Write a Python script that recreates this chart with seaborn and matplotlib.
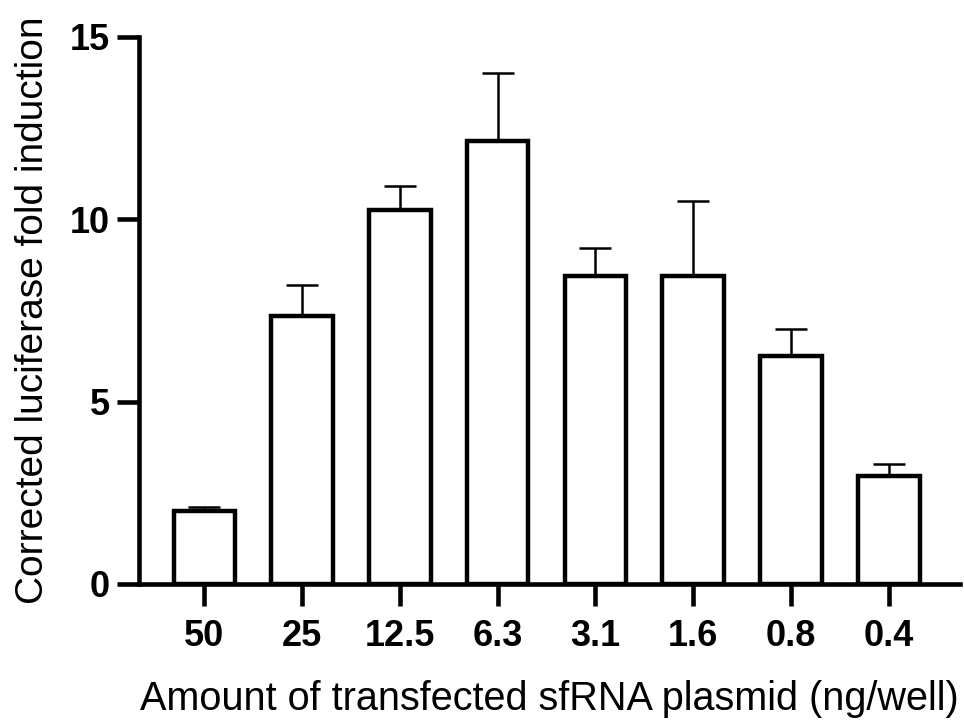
import matplotlib
matplotlib.use("Agg")
import matplotlib.pyplot as plt
import numpy as np
import pandas as pd
import seaborn as sns

# ---------------------- data ----------------------
amounts = ["50", "25", "12.5", "6.3", "3.1", "1.6", "0.8", "0.4"]
fold_mean = [2.0, 7.35, 10.25, 12.15, 8.45, 8.45, 6.25, 2.95]
fold_err = [0.1, 0.85, 0.65, 1.85, 0.75, 2.05, 0.75, 0.35]

df = pd.DataFrame({"amount": amounts, "fold": fold_mean})

# ---------------------- style ----------------------
sns.set_theme(style="ticks")
plt.rcParams["font.family"] = ["Liberation Sans", "DejaVu Sans"]
plt.rcParams.update({"text.color": "black", "axes.labelcolor": "black",
                     "xtick.color": "black", "ytick.color": "black"})

fig = plt.figure(figsize=(9.64, 7.2), dpi=100)
ax = fig.add_axes([0.144, 0.189, 0.852, 0.760])

sns.barplot(data=df, x="amount", y="fold", order=amounts, color="white",
            edgecolor="black", linewidth=3.2, width=0.63, errorbar=None, ax=ax)
for p in ax.patches:
    p.set_facecolor("white")
    p.set_zorder(2)

x = np.arange(len(amounts))
ax.errorbar(x, fold_mean, yerr=[np.zeros(len(x)), fold_err], fmt="none",
            ecolor="black", elinewidth=1.8, capsize=11.5, capthick=1.8, zorder=1)

ax.set_ylim(0, 15)
ax.set_xlim(-0.67, 7.73)
ax.set_yticks([0, 5, 10, 15])

for s in ["top", "right"]:
    ax.spines[s].set_visible(False)
for s in ["left", "bottom"]:
    ax.spines[s].set_linewidth(3.3)
    ax.spines[s].set_color("black")

ax.tick_params(axis="both", length=16, width=3.3, color="black", labelsize=26)
ax.tick_params(axis="x", pad=9)
ax.tick_params(axis="y", pad=5)
for lab in ax.get_xticklabels() + ax.get_yticklabels():
    lab.set_fontweight("bold")

ax.set_xlabel("Amount of transfected sfRNA plasmid (ng/well)", fontsize=28.5, labelpad=19)
ax.set_ylabel("Corrected luciferase fold induction", fontsize=28, labelpad=13)

fig.savefig("out.png", dpi=100, facecolor="white")
